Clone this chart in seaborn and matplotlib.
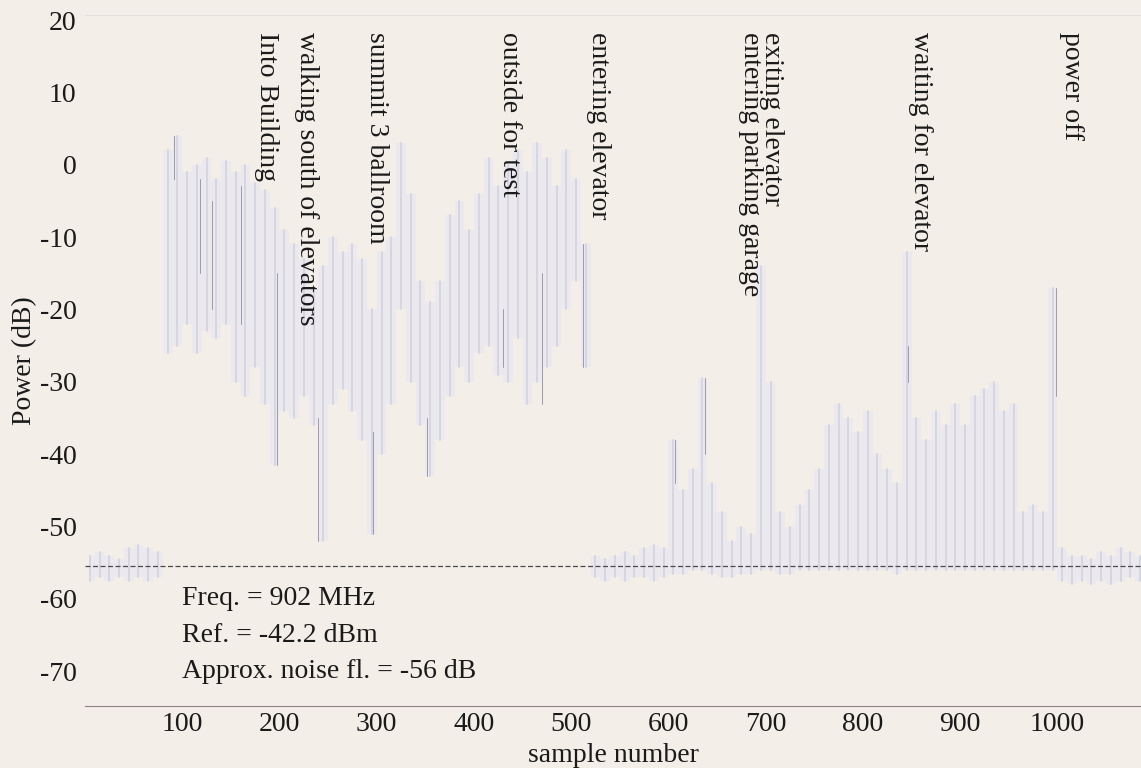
import numpy as np
import pandas as pd
import matplotlib
matplotlib.use("Agg")
import matplotlib.pyplot as plt
import seaborn as sns

# === Data: 10-sample bins, upper / lower power (dB) ===
bin_centers = list(range(5, 1086, 10))

power_hi = [
    -54.0, -53.5, -54.0, -54.5, -53.0, -52.5, -53.0, -53.5, 2.0, 4.0,
    -1.0, 0.0, 1.0, -2.0, 0.5, -1.0, 0.0, -2.5, -3.5, -6.0,
    -9.0, -11.0, -13.0, -17.0, -14.0, -10.0, -12.0, -11.0, -13.0, -20.0,
    -12.0, -10.0, 3.0, -4.0, -16.0, -19.0, -16.0, -7.0, -5.0, -9.0,
    -4.0, 1.0, -3.0, 0.0, 2.0, -1.0, 3.0, 1.0, -3.0, 2.0,
    -2.0, -11.0, -54.0, -54.5, -54.0, -53.5, -54.0, -53.0, -52.5, -53.0,
    -38.0, -45.0, -42.0, -29.5, -44.0, -48.0, -52.0, -50.0, -51.0, -14.0,
    -30.0, -48.0, -50.0, -47.0, -45.0, -42.0, -36.0, -33.0, -35.0, -37.0,
    -34.0, -40.0, -42.0, -44.0, -12.0, -35.0, -38.0, -34.0, -36.0, -33.0,
    -36.0, -32.0, -31.0, -30.0, -34.0, -33.0, -48.0, -47.0, -48.0, -17.0,
    -53.0, -54.0, -54.0, -54.5, -53.5, -54.0, -53.0, -53.5, -54.0,
]

power_lo = [
    -57.5, -57.0, -57.5, -57.0, -57.5, -57.0, -57.5, -57.0, -26.0, -25.0,
    -22.0, -26.0, -23.0, -24.0, -22.0, -30.0, -32.0, -28.0, -33.0, -41.5,
    -34.0, -35.0, -32.0, -36.0, -52.0, -33.0, -31.0, -34.0, -38.0, -51.0,
    -40.0, -33.0, -20.0, -30.0, -36.0, -43.0, -38.0, -32.0, -28.0, -30.0,
    -26.0, -25.0, -29.0, -30.0, -24.0, -33.0, -30.0, -28.0, -25.0, -20.0,
    -16.0, -28.0, -57.0, -57.5, -57.0, -57.5, -57.0, -57.0, -57.5, -57.0,
    -56.5, -56.5, -56.0, -56.0, -56.5, -57.0, -57.0, -56.5, -56.5, -56.0,
    -56.0, -56.5, -56.5, -56.0, -56.0, -56.0, -56.0, -56.0, -56.0, -56.0,
    -56.0, -56.0, -56.0, -56.5, -56.0, -56.0, -56.0, -56.0, -56.0, -56.0,
    -56.0, -56.0, -56.0, -56.0, -56.0, -56.0, -56.0, -56.0, -56.0, -56.0,
    -57.5, -58.0, -57.5, -58.0, -57.5, -58.0, -57.5, -57.0, -57.5,
]

# darker fine strokes that survived the scan
dark_samples = [92, 118, 131, 160, 197, 240, 296, 352, 430, 470, 512, 607, 638, 846, 999]
dark_top = [4.0, -2.0, -5.0, -3.0, -15.0, -35.0, -37.0, -35.0, -20.0, -15.0, -11.0, -38.0, -29.5, -25.0, -17.0]
dark_bot = [-2.0, -15.0, -20.0, -22.0, -41.5, -52.0, -51.0, -43.0, -28.0, -33.0, -28.0, -44.0, -40.0, -30.0, -32.0]

noise_floor = -55.4

# === Event annotations (sample number where the label sits) ===
event_labels = [
    "Into Building",
    "walking south of elevators",
    "summit 3 ballroom",
    "outside for test",
    "entering elevator",
    "exiting elevator\nentering parking garage",
    "waiting for elevator",
    "power off",
]
event_samples = [187, 228, 300, 437, 528, 695, 859, 1015]

info_lines = ["Freq. = 902 MHz", "Ref. = -42.2 dBm", "Approx. noise fl. = -56 dB"]
info_y = [-60, -65, -70]

x_ticks = [100, 200, 300, 400, 500, 600, 700, 800, 900, 1000]
y_ticks = [-70, -60, -50, -40, -30, -20, -10, 0, 10, 20]

# === One vertical streak (hi -> lo) per bin, like the faded scan ===
rows = []
for i, (c, hi, lo) in enumerate(zip(bin_centers, power_hi, power_lo)):
    rows.append({"bin": i, "sample": c, "power": hi})
    rows.append({"bin": i, "sample": c, "power": lo})
streaks = pd.DataFrame(rows)
band = pd.DataFrame({"sample": bin_centers, "hi": power_hi, "lo": power_lo})

dark_rows = []
for i, (s, t, b) in enumerate(zip(dark_samples, dark_top, dark_bot)):
    dark_rows.append({"stroke": i, "sample": s, "power": t})
    dark_rows.append({"stroke": i, "sample": s, "power": b})
dark = pd.DataFrame(dark_rows)

# === Style ===
bg = "#f3eee8"
sns.set_style("white")
plt.rcParams["font.family"] = ["Liberation Serif", "DejaVu Serif"]
plt.rcParams["axes.unicode_minus"] = False
fs = 20

fig = plt.figure(figsize=(11.41, 7.68), dpi=100, facecolor=bg)
ax = fig.add_axes([0.0745, 0.0807, 1 - 0.0745, 0.9805 - 0.0807])
ax.set_facecolor(bg)

# soft halo behind the trace
ax.fill_between(band["sample"], band["lo"], band["hi"], step="mid",
                color="#ebe8ee", linewidth=0, zorder=1)

sns.lineplot(data=streaks, x="sample", y="power", units="bin", estimator=None,
             color="#d6d5e2", linewidth=1.4, ax=ax, zorder=2)
sns.lineplot(data=dark, x="sample", y="power", units="stroke", estimator=None,
             color="#9d9bab", linewidth=0.7, ax=ax, zorder=2)

# noise floor
ax.axhline(noise_floor, color="#4a4a4a", linewidth=0.9, linestyle=(0, (4, 2)), zorder=3)

# === Annotations ===
for lbl, s in zip(event_labels, event_samples):
    ax.text(s, 18.3, lbl, rotation=270, ha="center", va="top", fontsize=fs,
            color="#1a1a1a", multialignment="left", linespacing=0.8)

for line, yv in zip(info_lines, info_y):
    ax.text(100, yv, line, ha="left", va="center", fontsize=fs, color="#1a1a1a")

# === Axes ===
ax.set_xlim(0, 1086)
ax.set_ylim(-74.8, 20.7)
ax.set_xticks(x_ticks)
ax.set_yticks(y_ticks)
ax.tick_params(axis="x", direction="in", length=6, color="#8c8283", width=0.8,
               labelsize=fs, pad=4, labelcolor="#1a1a1a")
ax.tick_params(axis="y", direction="in", length=8, color="#ddd6d3", width=0.8,
               labelsize=fs, pad=6, labelcolor="#1a1a1a")

for side in ["left", "right"]:
    ax.spines[side].set_visible(False)
ax.spines["bottom"].set_color("#8c8283")
ax.spines["bottom"].set_linewidth(0.8)
ax.spines["top"].set_color("#e4dfdc")
ax.spines["top"].set_linewidth(0.8)

ax.set_xlabel("sample number", fontsize=fs, color="#1a1a1a")
ax.xaxis.set_label_coords(0.5, -0.072)
ax.xaxis.label.set_va("center")
ax.set_ylabel("Power (dB)", fontsize=fs, labelpad=2, color="#1a1a1a")

plt.savefig("out.png", dpi=100, facecolor=bg)
plt.close()
